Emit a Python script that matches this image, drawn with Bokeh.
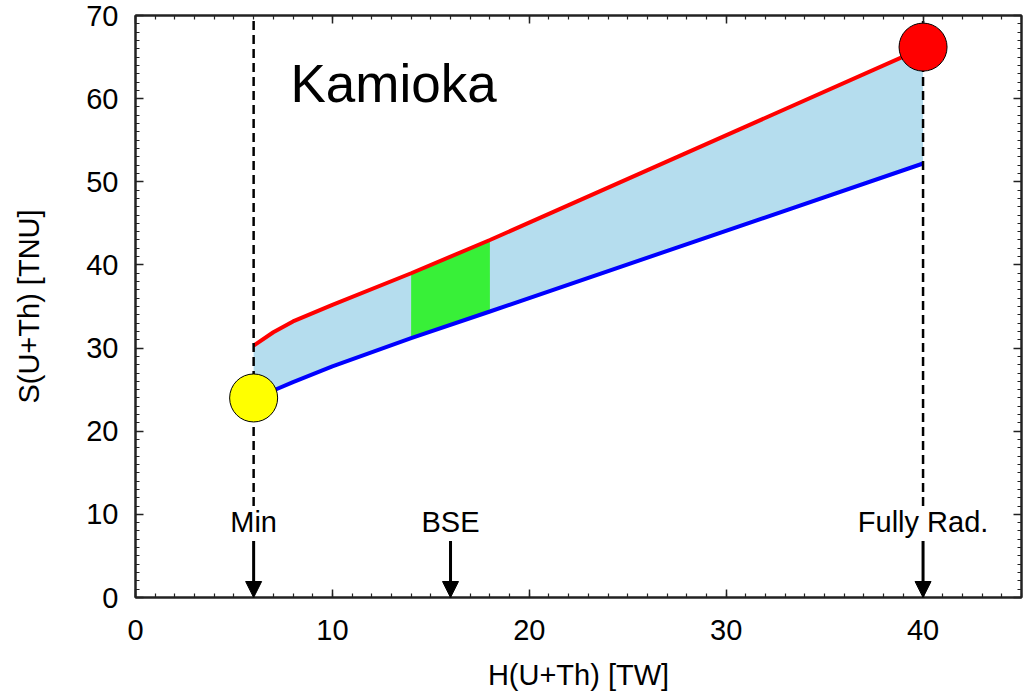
from bokeh.plotting import figure
from bokeh.models import Range1d, LinearAxis, FixedTicker, Arrow, NormalHead, ColumnDataSource, CustomJSTickFormatter
from bokeh.core.properties import value
from bokeh.embed import file_html
from bokeh.resources import INLINE

# Data
heat_x = [6, 7, 8, 10, 14, 18, 40]
signal_high = [30.3, 31.9, 33.2, 35.2, 39.0, 43.0, 66.1]
signal_low = [24.0, 24.9, 25.9, 27.8, 31.2, 34.4, 52.2]
bse_slice = slice(4, 6)  # BSE band 14-18 TW
marker_names = ["Min", "BSE", "Fully Rad."]
marker_x = [6, 16, 40]
min_point = (6, 24.0)
max_point = (40, 66.2)
site_name = "Kamioka"
x_major = [0, 10, 20, 30, 40]
y_major = [0, 10, 20, 30, 40, 50, 60, 70]

FONT = "Liberation Sans"

p = figure(width=1026, height=698, output_backend="svg", toolbar_location=None,
           x_range=Range1d(0, 45), y_range=Range1d(0, 70),
           x_axis_location=None, y_axis_location=None,
           min_border_left=135, min_border_right=5, min_border_top=15, min_border_bottom=101)
p.background_fill_color = "white"
p.border_fill_color = "white"
p.grid.visible = False
p.outline_line_color = "#222222"
p.outline_line_width = 2

def make_axis(major, minor, labels=True, label_text=None):
    ax = LinearAxis(ticker=FixedTicker(ticks=major, minor_ticks=minor))
    ax.major_tick_in = 8
    ax.major_tick_out = 0
    ax.minor_tick_in = 4
    ax.minor_tick_out = 0
    ax.axis_line_color = "#222222"
    ax.axis_line_width = 2
    ax.major_tick_line_color = "#222222"
    ax.minor_tick_line_color = "#222222"
    ax.major_tick_line_width = 1.5
    ax.minor_tick_line_width = 1.2
    ax.major_label_text_font = FONT
    ax.major_label_text_color = "black"
    ax.major_label_text_font_size = "29px"
    if not labels:
        ax.formatter = CustomJSTickFormatter(code="return ''")
        ax.major_label_standoff = 0
    if label_text:
        ax.axis_label = label_text
        ax.axis_label_text_font = FONT
        ax.axis_label_text_font_size = "29px"
        ax.axis_label_text_font_style = "normal"
        ax.axis_label_text_color = "black"
    return ax

x_minor = list(range(0, 46))
y_minor = list(range(0, 71))
xb = make_axis(x_major, x_minor, True, "H(U+Th) [TW]")
xb.major_label_standoff = 22
xb.axis_label_standoff = 16
yl = make_axis(y_major, y_minor, True, "S(U+Th) [TNU]")
yl.major_label_standoff = 17
yl.axis_label_standoff = 38
p.add_layout(xb, "below")
p.add_layout(yl, "left")
p.add_layout(make_axis(x_major, x_minor, False), "above")
p.add_layout(make_axis(y_major, y_minor, False), "right")

# band between limits
p.varea(x=heat_x, y1=signal_low, y2=signal_high, fill_color="#B5DDEE")
p.varea(x=heat_x[bse_slice], y1=signal_low[bse_slice], y2=signal_high[bse_slice], fill_color="#38F038")

p.line(heat_x, signal_high, line_color="#FF0000", line_width=4)
p.line(heat_x, signal_low, line_color="#0000FF", line_width=4)

# dashed verticals at Min and Fully Rad.
for xv in (marker_x[0], marker_x[2]):
    p.line([xv, xv], [11, 70], line_color="black", line_width=2.5, line_dash="9 5")

# arrows
for xv in marker_x:
    p.add_layout(Arrow(end=NormalHead(size=16, fill_color="black", line_color="black"),
                       x_start=xv, y_start=6.8, x_end=xv, y_end=0,
                       line_color="black", line_width=3))

src = ColumnDataSource(dict(x=marker_x, y=[9.1] * 3, t=marker_names))
p.text(x="x", y="y", text="t", source=src, text_align="center", text_baseline="alphabetic",
       text_font=value(FONT), text_font_size="29px", text_color="black")

p.text(x=[7.87], y=[61.8], text=[site_name], text_align="left", text_baseline="alphabetic",
       text_font=value(FONT), text_font_size="53px", text_color="black")

p.scatter([min_point[0]], [min_point[1]], size=48, fill_color="#FFFF00", line_color="black", line_width=1)
p.scatter([max_point[0]], [max_point[1]], size=48, fill_color="#FF0000", line_color="black", line_width=1)

open("out.html", "w").write(file_html(p, INLINE))
